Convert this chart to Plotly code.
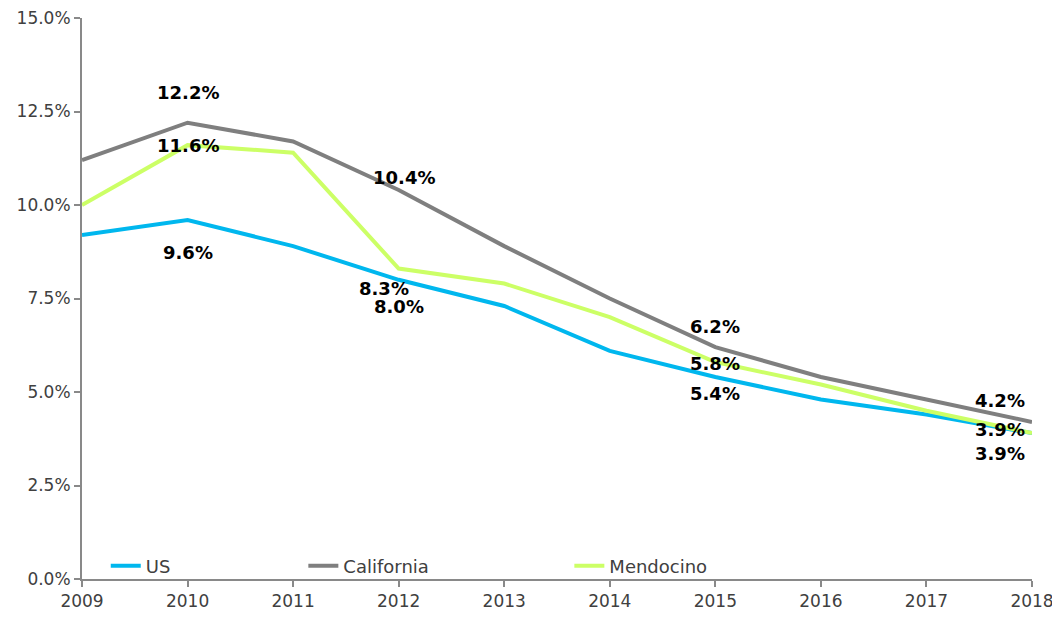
import plotly.graph_objects as go

years = [2009, 2010, 2011, 2012, 2013, 2014, 2015, 2016, 2017, 2018]
us = [9.2, 9.6, 8.9, 8.0, 7.3, 6.1, 5.4, 4.8, 4.4, 3.9]
california = [11.2, 12.2, 11.7, 10.4, 8.9, 7.5, 6.2, 5.4, 4.8, 4.2]
mendocino = [10.0, 11.6, 11.4, 8.3, 7.9, 7.0, 5.8, 5.2, 4.5, 3.9]
y_ticks = [0, 2.5, 5, 7.5, 10, 12.5, 15]
y_tick_labels = [f"{v:.1f}%" for v in y_ticks]

series_names = ["US", "California", "Mendocino"]
series_values = [us, california, mendocino]
colors = ["#00B7EE", "#7F7F7F", "#CCFF66"]
legend_ids = ["legend", "legend2", "legend3"]
legend_x = [0.025, 0.233, 0.513]

# labelled years
label_years = [2010, 2012, 2015, 2018]
# per-series label offsets (xshift, yshift) in px for each labelled year
label_offsets = {
    "US": [(0, -33), (0, -27), (0, -16), (-32, -20)],
    "California": [(0, 30), (5, 13), (0, 21), (-32, 21)],
    "Mendocino": [(0, 0), (-15, -20), (0, -1), (-32, 4)],
}

FONT = "DejaVu Sans"

fig = go.Figure()
for name, vals, col, lg in zip(series_names, series_values, colors, legend_ids):
    fig.add_trace(go.Scatter(
        x=years, y=vals, mode="lines", name=name,
        line=dict(color=col, width=4),
        legend=lg,
    ))

annotations = []
for name, vals in zip(series_names, series_values):
    for yr, (dx, dy) in zip(label_years, label_offsets[name]):
        v = vals[years.index(yr)]
        annotations.append(dict(
            x=yr, y=v, xref="x", yref="y", text=f"{v:.1f}%",
            showarrow=False, xshift=dx, yshift=dy,
            font=dict(family=FONT, size=18, color="#000000", weight="bold"),
        ))

legend_common = dict(orientation="h", yanchor="middle", y=0.023, xanchor="left",
                     bgcolor="rgba(0,0,0,0)", font=dict(family=FONT, size=18, color="#404040"),
                     itemwidth=30)
layouts = {}
for lg, lx in zip(legend_ids, legend_x):
    layouts[lg] = dict(legend_common, x=lx)

# the page body has an 8px margin, so margins are reduced/enlarged accordingly
fig.update_layout(
    width=1060, height=619,
    margin=dict(l=74, r=36, t=10, b=48, autoexpand=False),
    paper_bgcolor="white", plot_bgcolor="white",
    font=dict(family=FONT, size=16, color="#595959"),
    showlegend=True,
    annotations=annotations,
    xaxis=dict(
        range=[2009, 2018], tickvals=years, ticktext=[str(y) for y in years],
        showgrid=False, zeroline=False, showline=True, linecolor="#898989", linewidth=2,
        ticks="outside", ticklen=6, tickcolor="#898989", tickwidth=2, automargin=False,
        ticklabeloverflow="allow",
        tickfont=dict(family=FONT, size=17, color="#404040"),
    ),
    yaxis=dict(
        range=[0, 15], tickvals=y_ticks, ticktext=y_tick_labels,
        showgrid=False, zeroline=False, showline=True, linecolor="#898989", linewidth=2,
        ticks="outside", ticklen=6, tickcolor="#898989", tickwidth=2, automargin=False,
        ticklabeloverflow="allow",
        tickfont=dict(family=FONT, size=17, color="#404040"),
    ),
    **layouts,
)

fig.write_html("out.html")
